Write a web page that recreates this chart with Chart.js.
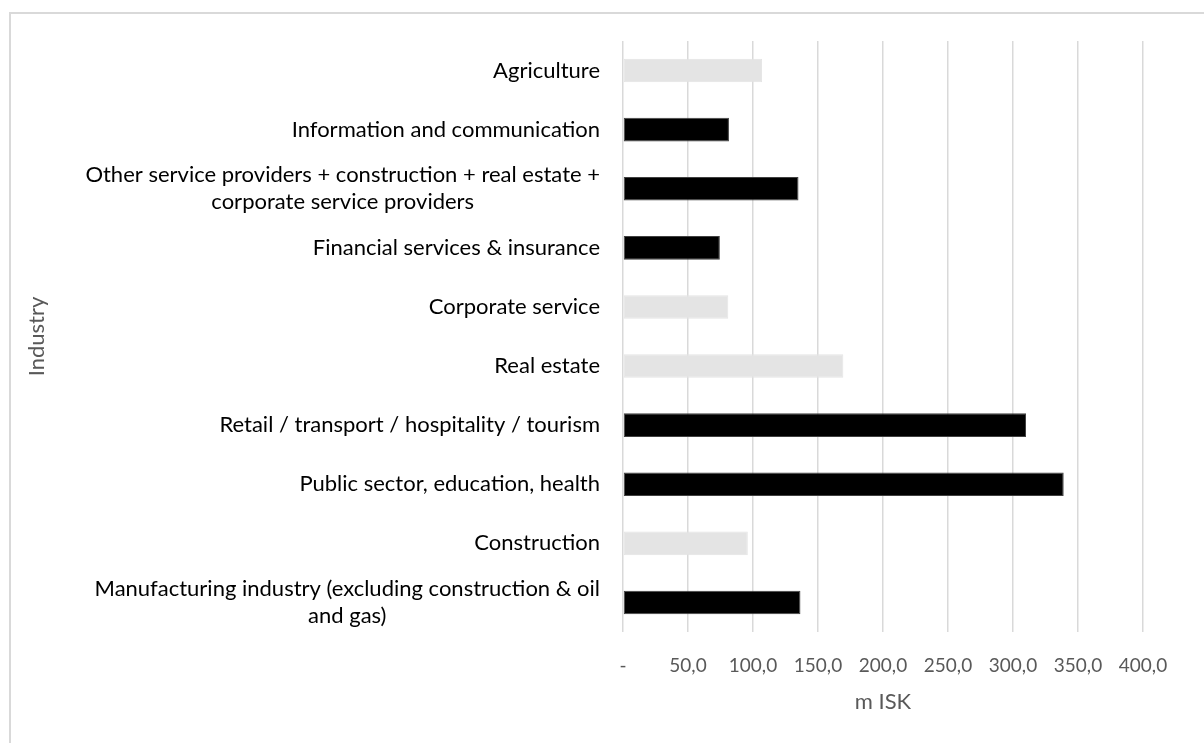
<!DOCTYPE html>
<html lang="en">
<head>
    <meta charset="UTF-8">
    <title>Industry – m ISK</title>
    <script src="https://cdn.jsdelivr.net/npm/chart.js"></script>
    <style>
        html, body {
            margin: 0;
            padding: 0;
            background: #ffffff;
            overflow: hidden;
        }
        .wrap {
            position: relative;
            width: 1204px;
            height: 743px;
        }
        .frame {
            position: absolute;
            left: 9px;
            top: 12px;
            width: 1300px;
            height: 900px;
            border-left: 2px solid #d9d9d9;
            border-top: 2px solid #d9d9d9;
        }
        canvas {
            position: absolute;
            left: 0;
            top: 0;
        }
    </style>
</head>
<body>
    <div class="wrap">
        <div class="frame"></div>
        <canvas id="industryChart" width="1204" height="743"></canvas>
    </div>

    <script>
        // Categories, top to bottom
        const industries = [
            'Agriculture',
            'Information and communication',
            ['Other service providers + construction + real estate +', 'corporate service providers'],
            'Financial services & insurance',
            'Corporate service',
            'Real estate',
            'Retail / transport / hospitality / tourism',
            'Public sector, education, health',
            'Construction',
            ['Manufacturing industry (excluding construction & oil', 'and gas)']
        ];
        // m ISK
        const amounts = [107, 81.5, 135, 74.5, 81, 169.5, 310, 339, 96, 136.5];
        // sub-items that are part of a combined group (drawn light)
        const isSubItem = [true, false, false, false, true, true, false, false, true, false];

        const xTicks = [0, 50, 100, 150, 200, 250, 300, 350, 400];

        const FONT = "Lato, 'Open Sans', sans-serif";
        const LABEL_RIGHT = 600;

        // draws the category labels right-aligned, multi-line ones centred among themselves
        const yLabelPlugin = {
            id: 'yLabels',
            afterDraw(chart) {
                const ctx = chart.ctx;
                const scale = chart.scales.y;
                ctx.save();
                ctx.font = '22px ' + FONT;
                ctx.fillStyle = '#000000';
                ctx.textAlign = 'center';
                ctx.textBaseline = 'middle';
                const lineH = 27;
                industries.forEach((label, i) => {
                    const lines = Array.isArray(label) ? label : [label];
                    const widest = Math.max(...lines.map(l => ctx.measureText(l).width));
                    const cx = LABEL_RIGHT - widest / 2;
                    const cy = scale.getPixelForValue(i);
                    const startY = cy - (lines.length - 1) * lineH / 2;
                    lines.forEach((l, j) => ctx.fillText(l, cx, startY + j * lineH));
                });
                ctx.restore();
            }
        };

        const chart = new Chart(document.getElementById('industryChart').getContext('2d'), {
            type: 'bar',
            data: {
                labels: industries,
                datasets: [{
                    label: 'm ISK',
                    data: amounts,
                    backgroundColor: amounts.map((v, i) => isSubItem[i] ? '#e4e4e4' : '#000000'),
                    borderColor: amounts.map((v, i) => isSubItem[i] ? '#e4e4e4' : '#404040'),
                    borderWidth: 1,
                    borderSkipped: false,
                    barPercentage: 0.4,
                    categoryPercentage: 1
                }]
            },
            options: {
                indexAxis: 'y',
                responsive: false,
                animation: false,
                layout: {
                    padding: { left: 20, right: 61, top: 41, bottom: 0 }
                },
                plugins: {
                    legend: { display: false },
                    tooltip: { enabled: false }
                },
                scales: {
                    x: {
                        min: 0,
                        max: 400,
                        afterBuildTicks: s => { s.ticks = xTicks.map(v => ({ value: v })); },
                        afterFit: s => { s.height = 111; },
                        grid: {
                            color: '#d9d9d9',
                            lineWidth: 1.5,
                            drawTicks: false
                        },
                        border: { display: false },
                        ticks: {
                            padding: 22,
                            color: '#595959',
                            font: { family: FONT, size: 19 },
                            callback: v => v === 0 ? '-' : v.toFixed(1).replace('.', ',')
                        },
                        title: {
                            display: true,
                            text: 'm ISK',
                            color: '#595959',
                            font: { family: FONT, size: 22 },
                            padding: { top: 0, bottom: 28 }
                        }
                    },
                    y: {
                        afterFit: s => { s.width = 603; },
                        grid: { display: false },
                        border: { display: false },
                        ticks: { display: false },
                        title: {
                            display: true,
                            text: 'Industry',
                            color: '#595959',
                            font: { family: FONT, size: 22 },
                            padding: { top: 4, bottom: 0 }
                        }
                    }
                }
            },
            plugins: [yLabelPlugin]
        });
    </script>
</body>
</html>
